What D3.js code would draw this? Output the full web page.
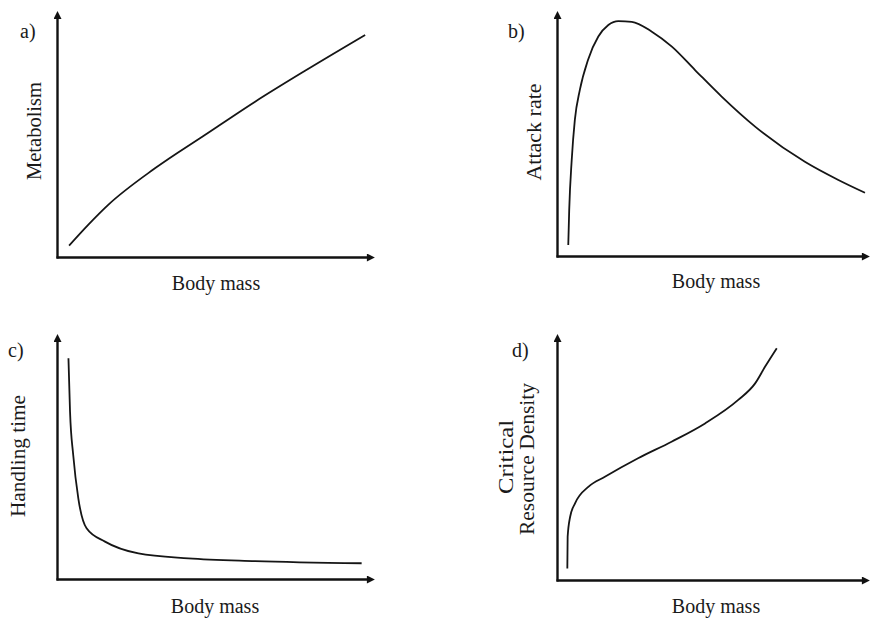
<!DOCTYPE html>
<html>
<head>
<meta charset="utf-8">
<script src="https://cdn.jsdelivr.net/npm/d3@7"></script>
<style>
  body { margin: 0; background: #fff; }
  svg text { font-family: "Liberation Serif", "Times New Roman", serif; fill: #1a1a1a; }
</style>
</head>
<body>
<svg id="chart" width="871" height="621"></svg>
<script>
// panel tags and axis titles
const tags = ["a)", "b)", "c)", "d)"];
const yTitles = [["Metabolism"], ["Attack rate"], ["Handling time"], ["Critical", "Resource Density"]];
const xTitle = "Body mass";

// curves (x, y in 0..100 of each axis)
const metabolism = [[3.8,4.6],[9.8,13.0],[16.1,21.1],[30.8,35.9],[46.5,49.4],[62.3,62.9],[78,75.4],[96.9,89.9]];
const attackRate = [[3.6,4.5],[3.9,18.7],[4.7,39],[5.7,55.3],[7.3,67.5],[9.9,79.7],[13.2,89.2],[16.4,93.9],[19.6,95.5],
                    [23.9,95.2],[30.3,91.2],[36.7,85.1],[44.1,75.6],[52.6,64.8],[63.3,52.6],[79.2,38.3],[89.9,30.9],[98.4,25.7]];
const handlingTime = [[3.6,89.7],[4.1,68.0],[5.1,50.4],[6.7,32.8],[9.3,20.6],[15.1,15.2],[25.6,10.4],[41.3,8.4],[62.3,7.3],[95.8,6.4]];
const critDensity = [[3.3,4.7],[3.4,17.5],[4.2,25.6],[5.8,31.1],[10.1,37.8],[15.3,41.8],[25.9,49.3],[36.6,56],
                     [47.3,63.4],[57.9,72.9],[63.3,79.6],[66.5,86.4],[70.2,93.8]];

const series = [metabolism, attackRate, handlingTime, critDensity];

// where each little plot sits; ylab = [x, y, length]
const layout = [
  {ox: 57,  oy: 257, tx: 375, ty: 10,  tag: [20, 38],  ylab: [[41, 131, 98]],  xlab: [216, 290]},
  {ox: 557, oy: 256, tx: 870, ty: 10,  tag: [508, 38], ylab: [[541, 132, 97]], xlab: [716, 288]},
  {ox: 57,  oy: 579, tx: 375, ty: 333, tag: [8, 357],  ylab: [[25, 456, 122]],  xlab: [215, 613]},
  {ox: 557, oy: 580, tx: 870, ty: 333, tag: [512, 357], ylab: [[513, 457, 74], [534, 459, 152]], xlab: [716, 613]}
];

const svg = d3.select("#chart");

svg.append("defs").append("marker")
    .attr("id", "arrow")
    .attr("markerUnits", "userSpaceOnUse")
    .attr("viewBox", "0 0 10 10")
    .attr("refX", 2)
    .attr("refY", 5)
    .attr("markerWidth", 9)
    .attr("markerHeight", 8)
    .attr("orient", "auto")
  .append("path")
    .attr("d", "M0,0L10,5L0,10z")
    .attr("fill", "#111");

series.forEach(function(data, i) {
    const L = layout[i];
    const x = d3.scaleLinear().domain([0, 100]).range([L.ox, L.tx]);
    const y = d3.scaleLinear().domain([0, 100]).range([L.oy, L.ty]);

    const g = svg.append("g");

    // axes without ticks, arrow at the end
    const xAxis = g.append("g")
        .attr("transform", "translate(0," + L.oy + ")")
        .call(d3.axisBottom(x.copy().range([L.ox - 1, L.tx - 7])).tickValues([]).tickSizeOuter(0));
    const yAxis = g.append("g")
        .attr("transform", "translate(" + L.ox + ",0)")
        .call(d3.axisLeft(y.copy().range([L.oy + 1, L.ty + 7])).tickValues([]).tickSizeOuter(0));
    [xAxis, yAxis].forEach(function(a) {
        a.select(".domain")
            .attr("stroke", "#111")
            .attr("stroke-width", 2.4)
            .attr("marker-end", "url(#arrow)");
    });

    const line = d3.line()
        .x(function(d) { return x(d[0]); })
        .y(function(d) { return y(d[1]); })
        .curve(d3.curveMonotoneX);

    g.append("path")
        .datum(data)
        .attr("d", line)
        .attr("fill", "none")
        .attr("stroke", "#151515")
        .attr("stroke-width", 1.8);

    g.append("text")
        .attr("x", L.tag[0])
        .attr("y", L.tag[1])
        .attr("font-size", 20)
        .text(tags[i]);

    yTitles[i].forEach(function(t, k) {
        g.append("text")
            .attr("transform", "translate(" + L.ylab[k][0] + "," + L.ylab[k][1] + ") rotate(-90)")
            .attr("text-anchor", "middle")
            .attr("font-size", 20)
            .attr("textLength", L.ylab[k][2])
            .attr("lengthAdjust", "spacingAndGlyphs")
            .text(t);
    });

    g.append("text")
        .attr("x", L.xlab[0])
        .attr("y", L.xlab[1])
        .attr("text-anchor", "middle")
        .attr("font-size", 20)
        .text(xTitle);
});
</script>
</body>
</html>
